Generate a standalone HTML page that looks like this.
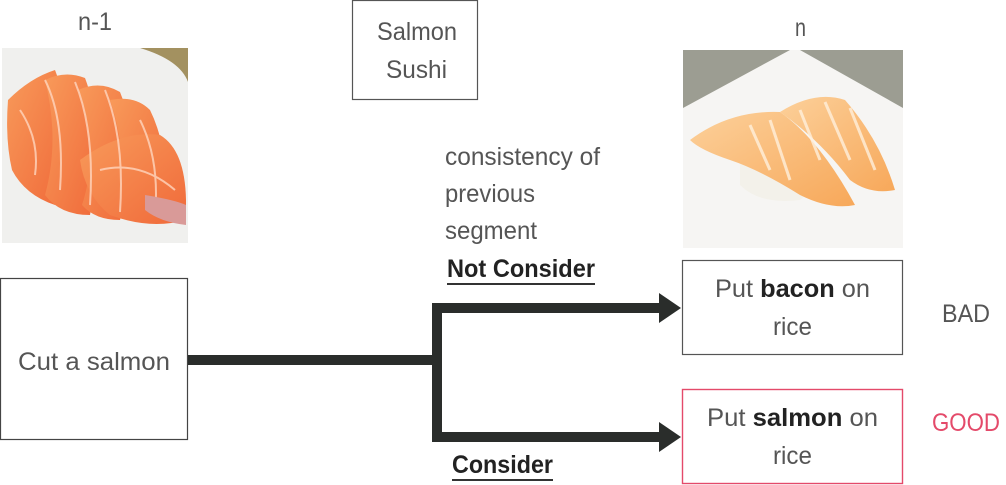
<!DOCTYPE html>
<html><head><meta charset="utf-8"><style>
html,body{margin:0;padding:0;background:#fff;}
svg{display:block;}
text{font-family:"Liberation Sans Narrow","Liberation Sans",sans-serif;}
</style></head><body>
<svg width="1006" height="485" viewBox="0 0 1006 485" xmlns="http://www.w3.org/2000/svg">
<defs>
<linearGradient id="sal" x1="0" y1="0" x2="1" y2="1">
<stop offset="0" stop-color="#f89a5a"/><stop offset="1" stop-color="#f06a3a"/></linearGradient>
<linearGradient id="sus" x1="0" y1="0" x2="1" y2="1">
<stop offset="0" stop-color="#fcd09a"/><stop offset="1" stop-color="#f7a85a"/></linearGradient>
</defs>
<!-- left image -->
<rect x="2" y="48" width="186" height="195" fill="#f4f2ee"/>
<polygon points="140,48 188,48 188,82" fill="#a39160"/>
<path d="M2,48 L140,48 Q180,60 188,82 L188,243 L2,243 Z" fill="#f0f0ee"/>
<g fill="url(#sal)">
<path d="M8,100 Q30,78 55,70 Q75,120 55,205 Q25,195 12,170 Q5,140 8,100Z"/>
<path d="M45,80 Q65,70 85,78 Q105,130 90,215 Q60,215 45,195 Q60,140 45,80Z"/>
<path d="M78,90 Q100,80 120,92 Q140,140 120,220 Q95,220 82,205 Q100,150 78,90Z"/>
<path d="M110,100 Q135,95 150,110 Q170,150 165,215 Q140,222 118,215 Q130,160 110,100Z"/>
<path d="M80,160 Q120,130 160,135 Q185,150 186,200 L186,220 Q150,230 110,215 Q85,195 80,160Z"/>
</g>
<g stroke="#ffd6bf" stroke-width="2" fill="none" opacity="0.8">
<path d="M20,110 Q40,140 35,175"/><path d="M45,80 Q65,120 60,190"/><path d="M75,82 Q95,130 90,205"/>
<path d="M105,90 Q125,140 120,212"/><path d="M140,120 Q160,160 155,215"/><path d="M100,170 Q140,160 175,190"/>
</g>
<path d="M145,195 Q175,200 186,205 L186,225 Q160,222 145,210Z" fill="#d99a98"/>
<!-- right image -->
<rect x="683" y="50" width="220" height="198" fill="#f6f5f3"/>
<polygon points="683,50 790,50 683,108" fill="#9c9d92"/>
<polygon points="800,50 903,50 903,108" fill="#9c9d92"/>
<path d="M740,150 Q780,140 810,160 Q820,185 800,200 Q760,205 740,185 Z" fill="#f3f1ea"/>
<path d="M690,140 Q730,110 780,112 Q820,140 855,205 Q830,210 800,195 Q760,170 730,160 Q700,150 690,140Z" fill="url(#sus)"/>
<path d="M780,112 Q815,90 845,100 Q880,140 895,190 Q870,195 850,180 Q820,140 780,112Z" fill="url(#sus)"/>
<g stroke="#fff0dc" stroke-width="3" fill="none" opacity="0.8">
<path d="M750,125 L770,170"/><path d="M770,120 L790,180"/><path d="M800,110 L820,160"/><path d="M825,102 L850,160"/><path d="M850,108 L875,170"/>
</g>
<!-- boxes -->
<rect x="352.5" y="0.5" width="125" height="99" fill="none" stroke="#555" stroke-width="1.2"/>
<rect x="0.5" y="278.5" width="187" height="161" fill="none" stroke="#444" stroke-width="1.2"/>
<rect x="682.5" y="260.5" width="220" height="94" fill="none" stroke="#555" stroke-width="1.2"/>
<rect x="682.5" y="389.5" width="220" height="94" fill="none" stroke="#e44a6a" stroke-width="1.4"/>
<!-- arrows -->
<g fill="#2a2d2b">
<rect x="188" y="355" width="250" height="10"/>
<rect x="432" y="303" width="10" height="139"/>
<rect x="432" y="303" width="230" height="10"/>
<rect x="432" y="432" width="230" height="10"/>
<polygon points="659,293 681,308 659,323"/>
<polygon points="659,422 681,437 659,452"/>
</g>
<!-- text -->
<g fill="#555" font-size="25">
<text x="78" y="30" textLength="34" lengthAdjust="spacingAndGlyphs">n-1</text>
<text x="377" y="40" textLength="80" lengthAdjust="spacingAndGlyphs">Salmon</text>
<text x="386" y="78" textLength="61" lengthAdjust="spacingAndGlyphs">Sushi</text>
<text x="795" y="36" textLength="11" lengthAdjust="spacingAndGlyphs">n</text>
<text x="445" y="165" textLength="155" lengthAdjust="spacingAndGlyphs">consistency of</text>
<text x="445" y="202" textLength="90" lengthAdjust="spacingAndGlyphs">previous</text>
<text x="445" y="239" textLength="92" lengthAdjust="spacingAndGlyphs">segment</text>
<text x="18" y="370" textLength="152" lengthAdjust="spacingAndGlyphs">Cut a salmon</text>
<text x="715" y="297" textLength="155" lengthAdjust="spacingAndGlyphs">Put <tspan font-weight="bold" fill="#222">bacon</tspan> on</text>
<text x="773" y="335" textLength="39" lengthAdjust="spacingAndGlyphs">rice</text>
<text x="707" y="426" textLength="171" lengthAdjust="spacingAndGlyphs">Put <tspan font-weight="bold" fill="#222">salmon</tspan> on</text>
<text x="773" y="464" textLength="39" lengthAdjust="spacingAndGlyphs">rice</text>
<text x="942" y="322" textLength="48" lengthAdjust="spacingAndGlyphs">BAD</text>
</g>
<text x="932" y="431" font-size="25" fill="#e44a6a" textLength="68" lengthAdjust="spacingAndGlyphs">GOOD</text>
<g fill="#222" font-size="25" font-weight="bold">
<text x="447" y="277" textLength="148" lengthAdjust="spacingAndGlyphs">Not Consider</text>
<text x="452" y="473" textLength="101" lengthAdjust="spacingAndGlyphs">Consider</text>
</g>
<rect x="447" y="283" width="148" height="2" fill="#333"/>
<rect x="452" y="479" width="101" height="2" fill="#333"/>
</svg>
</body></html>
